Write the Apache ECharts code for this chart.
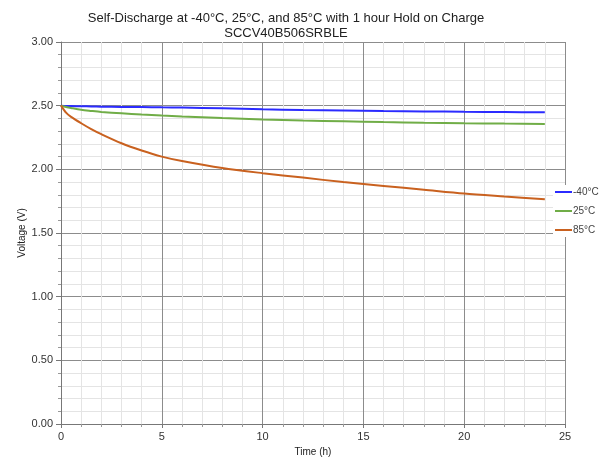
<!DOCTYPE html>
<html>
<head>
<meta charset="utf-8">
<script src="https://cdn.jsdelivr.net/npm/echarts@6/dist/echarts.min.js"></script>
<style>
  html, body { margin: 0; padding: 0; background: #fff; }
  #main { width: 605px; height: 459px; }
</style>
</head>
<body>
<div id="main"></div>
<script>
// hours
const timeH = [0, 0.25, 0.5, 1, 1.5, 2, 3, 4, 5, 6, 8, 10, 12, 14, 16, 18, 20, 22, 24];
// voltage per temperature
const voltM40 = [2.50, 2.498, 2.497, 2.495, 2.494, 2.492, 2.490, 2.489, 2.487, 2.485, 2.479, 2.471, 2.466, 2.462, 2.458, 2.455, 2.452, 2.450, 2.448];
const volt25 = [2.50, 2.490, 2.482, 2.468, 2.459, 2.451, 2.440, 2.430, 2.422, 2.415, 2.403, 2.392, 2.383, 2.377, 2.371, 2.366, 2.362, 2.359, 2.357];
const volt85 = [2.50, 2.445, 2.412, 2.362, 2.316, 2.276, 2.205, 2.148, 2.10, 2.065, 2.01, 1.97, 1.935, 1.90, 1.87, 1.84, 1.81, 1.787, 1.765];
const seriesNames = ['-40°C', '25°C', '85°C'];
const seriesColors = ['#2b2bff', '#70ad47', '#c9611f'];

const pairs = (ys) => timeH.map((t, i) => [t, ys[i]]);

const chart = echarts.init(document.getElementById('main'));
const font = 'Liberation Sans, Arial, sans-serif';

const lineSeries = (i, ys) => ({
  name: seriesNames[i],
  type: 'line',
  data: pairs(ys),
  smooth: 0.3,
  showSymbol: false,
  color: seriesColors[i],
  lineStyle: { width: 2 }
});

const option = {
  backgroundColor: '#fff',
  animation: false,
  textStyle: { fontFamily: font },
  title: {
    text: 'Self-Discharge at -40°C, 25°C, and 85°C with 1 hour Hold on Charge\nSCCV40B506SRBLE',
    left: 281,
    textAlign: 'center',
    top: 6,
    textStyle: { fontSize: 13, fontWeight: 'normal', color: '#222', lineHeight: 15, fontFamily: font }
  },
  legend: {
    orient: 'vertical',
    left: 553,
    top: 185,
    itemWidth: 17,
    itemHeight: 2,
    itemGap: 9,
    icon: 'rect',
    padding: [2, 2, 2, 2],
    backgroundColor: '#fff',
    textStyle: { fontSize: 10, color: '#444', padding: [0, 0, 0, -4], fontFamily: font },
    data: seriesNames
  },
  grid: { left: 61, right: 40, top: 42, bottom: 35, outerBoundsMode: 'none' },
  xAxis: {
    type: 'value',
    min: 0, max: 25, interval: 5,
    name: 'Time (h)',
    nameLocation: 'middle',
    nameGap: 23,
    nameMoveOverlap: false,
    nameTextStyle: { fontSize: 10, color: '#222', fontFamily: font },
    axisLine: { lineStyle: { color: '#777' } },
    axisTick: { show: true, length: 4, lineStyle: { color: '#777' } },
    minorTick: { show: true, splitNumber: 5, length: 3, lineStyle: { color: '#999' } },
    axisLabel: { fontSize: 11, color: '#333', margin: 7 },
    splitLine: { show: true, lineStyle: { color: '#8c8c8c', width: 1 } },
    minorSplitLine: { show: true, lineStyle: { color: '#e4e4e4', width: 1 } }
  },
  yAxis: {
    type: 'value',
    min: 0, max: 3, interval: 0.5,
    name: 'Voltage (V)',
    nameLocation: 'middle',
    nameGap: 34,
    nameMoveOverlap: false,
    nameTextStyle: { fontSize: 10, color: '#222', fontFamily: font },
    axisLine: { show: true, lineStyle: { color: '#777' } },
    axisTick: { show: true, length: 5, lineStyle: { color: '#777' } },
    minorTick: { show: true, splitNumber: 5, length: 3, lineStyle: { color: '#999' } },
    axisLabel: { fontSize: 11, color: '#333', margin: 8, formatter: (v) => v.toFixed(2) },
    splitLine: { show: true, lineStyle: { color: '#8c8c8c', width: 1 } },
    minorSplitLine: { show: true, lineStyle: { color: '#e4e4e4', width: 1 } }
  },
  series: [
    lineSeries(0, voltM40),
    lineSeries(1, volt25),
    lineSeries(2, volt85)
  ]
};

chart.setOption(option);
</script>
</body>
</html>
